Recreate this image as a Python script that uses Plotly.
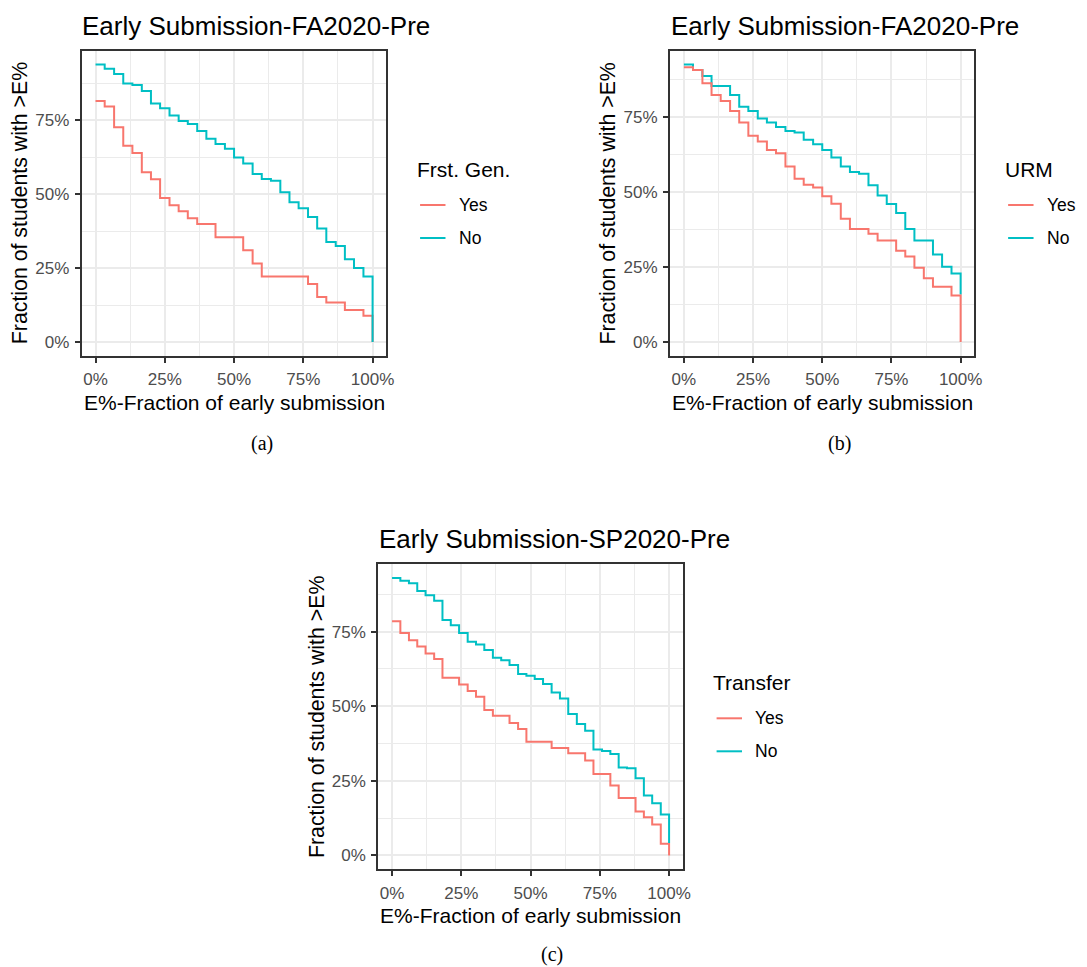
import plotly.graph_objects as go

W, H = 1087, 967

# ---------------- data ----------------
# E% grid (fall semester: 30 assignments, spring: 33)
e_fa = [0.000, 0.033, 0.067, 0.100, 0.133, 0.167, 0.200, 0.233, 0.267, 0.300,
        0.333, 0.367, 0.400, 0.433, 0.467, 0.500, 0.533, 0.567, 0.600, 0.633,
        0.667, 0.700, 0.733, 0.767, 0.800, 0.833, 0.867, 0.900, 0.933, 0.967, 1.000]
e_sp = [0.000, 0.030, 0.061, 0.091, 0.121, 0.152, 0.182, 0.212, 0.242, 0.273,
        0.303, 0.333, 0.364, 0.394, 0.424, 0.455, 0.485, 0.515, 0.545, 0.576,
        0.606, 0.636, 0.667, 0.697, 0.727, 0.758, 0.788, 0.818, 0.848, 0.879,
        0.909, 0.939, 0.970, 1.000]

# (a) First generation, FA2020
a_yes = [0.816, 0.797, 0.727, 0.664, 0.640, 0.575, 0.551, 0.488, 0.463, 0.443,
         0.419, 0.400, 0.400, 0.355, 0.355, 0.355, 0.311, 0.266, 0.222, 0.222,
         0.222, 0.222, 0.222, 0.197, 0.153, 0.134, 0.134, 0.109, 0.109, 0.089, 0.000]
a_no = [0.939, 0.925, 0.907, 0.875, 0.870, 0.850, 0.807, 0.791, 0.767, 0.748,
        0.738, 0.714, 0.688, 0.670, 0.654, 0.625, 0.604, 0.569, 0.552, 0.546,
        0.507, 0.473, 0.453, 0.423, 0.384, 0.339, 0.325, 0.280, 0.251, 0.222, 0.000]

# (b) URM, FA2020
b_yes = [0.914, 0.905, 0.861, 0.822, 0.802, 0.769, 0.730, 0.686, 0.667, 0.639,
         0.628, 0.584, 0.543, 0.523, 0.514, 0.485, 0.460, 0.410, 0.376, 0.376,
         0.360, 0.338, 0.338, 0.304, 0.285, 0.247, 0.212, 0.184, 0.184, 0.155, 0.000]
b_no = [0.923, 0.905, 0.885, 0.852, 0.852, 0.822, 0.783, 0.769, 0.744, 0.730,
        0.715, 0.702, 0.697, 0.673, 0.658, 0.639, 0.614, 0.584, 0.566, 0.560,
        0.522, 0.488, 0.459, 0.429, 0.376, 0.338, 0.338, 0.291, 0.251, 0.228, 0.158]

# (c) Transfer, SP2020
c_yes = [0.785, 0.745, 0.721, 0.700, 0.677, 0.658, 0.595, 0.595, 0.573, 0.551,
         0.532, 0.487, 0.468, 0.468, 0.444, 0.424, 0.381, 0.381, 0.381, 0.360,
         0.360, 0.342, 0.342, 0.318, 0.273, 0.273, 0.234, 0.192, 0.192, 0.147,
         0.128, 0.104, 0.039, 0.000]
c_no = [0.930, 0.920, 0.912, 0.886, 0.872, 0.853, 0.789, 0.771, 0.745, 0.716,
        0.707, 0.688, 0.662, 0.654, 0.638, 0.608, 0.602, 0.591, 0.574, 0.546,
        0.526, 0.474, 0.440, 0.418, 0.355, 0.350, 0.340, 0.295, 0.292, 0.259,
        0.201, 0.175, 0.137, 0.042]

titles = ["Early Submission-FA2020-Pre", "Early Submission-FA2020-Pre",
          "Early Submission-SP2020-Pre"]
legend_titles = ["Frst. Gen.", "URM", "Transfer"]
group_labels = ["Yes", "No"]
captions = ["(a)", "(b)", "(c)"]
x_ticks = [0, 0.25, 0.5, 0.75, 1.0]
y_ticks = [0, 0.25, 0.5, 0.75, 1.0]
minor_ticks = [0.125, 0.375, 0.625, 0.875]

# ---------------- styling ----------------
RED, CYAN = "#F8766D", "#00BFC4"
GRID, BORDER, TICKTXT = "#EBEBEB", "#333333", "#4D4D4D"
SANS, SERIF = "Liberation Sans", "Liberation Serif"

# panel boxes in pixels: left, right, top, bottom
boxes = [(82.3, 389.3, 50.7, 356.0),
         (675.0, 981.7, 50.7, 356.0),
         (381.0, 688.0, 564.0, 869.3)]
caption_pos = [(263.5, 444.0), (846.0, 444.0), (556.0, 954.5)]

panels = [
    (e_fa, a_yes, a_no, True),   # True -> draw "No" on top
    (e_fa, b_yes, b_no, False),
    (e_sp, c_yes, c_no, True),
]


def px(x):
    return x / W


def py(y):
    return 1 - y / H


fig = go.Figure()
annotations = []
shapes = []
layout_axes = {}

for i, ((L, R, T, B), (ex, yes, no, no_on_top)) in enumerate(zip(boxes, panels)):
    n = "" if i == 0 else str(i + 1)
    xa, ya = "x" + n, "y" + n

    tr_yes = go.Scatter(x=ex, y=yes, mode="lines", name=group_labels[0],
                        line=dict(color=RED, width=2, shape="hv"),
                        xaxis=xa, yaxis=ya, showlegend=False)
    tr_no = go.Scatter(x=ex, y=no, mode="lines", name=group_labels[1],
                       line=dict(color=CYAN, width=2, shape="hv"),
                       xaxis=xa, yaxis=ya, showlegend=False)
    if no_on_top:
        fig.add_trace(tr_yes)
        fig.add_trace(tr_no)
    else:
        fig.add_trace(tr_no)
        fig.add_trace(tr_yes)

    ymax = max(max(yes), max(no))
    ymin = min(min(yes), min(no))
    span = ymax - ymin
    common = dict(
        showline=True, linecolor=BORDER, linewidth=2, mirror=True,
        ticks="outside", ticklen=5, tickwidth=2, tickcolor=BORDER,
        showgrid=True, gridcolor=GRID, gridwidth=2, zeroline=False,
        tickformat=".0%", tickmode="array",
        tickfont=dict(family=SANS, size=17, color=TICKTXT),
        minor=dict(tickmode="array", tickvals=minor_ticks, showgrid=True,
                   gridcolor=GRID, gridwidth=1, ticks=""),
        fixedrange=True,
    )
    layout_axes["xaxis" + n] = dict(
        common, domain=[px(L), px(R)], anchor=ya, range=[-0.05, 1.05],
        tickvals=x_ticks, ticklabelstandoff=2)
    layout_axes["yaxis" + n] = dict(
        common, domain=[py(B), py(T)], anchor=xa,
        range=[ymin - 0.05 * span, ymax + 0.05 * span],
        tickvals=y_ticks, ticklabelstandoff=2)

    # panel title
    annotations.append(dict(x=px(L - 1.5), y=py(T - 25.0), text=titles[i],
                            xanchor="left", yanchor="middle",
                            font=dict(family=SANS, size=26, color="black")))
    # axis titles
    annotations.append(dict(x=px((L + R) / 2), y=py(B + 46), text="E%-Fraction of early submission",
                            xanchor="center", yanchor="middle",
                            font=dict(family=SANS, size=21, color="black")))
    annotations.append(dict(x=px(L - 62.3), y=py((T + B) / 2), text="Fraction of students with >E%",
                            textangle=-90, xanchor="center", yanchor="middle",
                            font=dict(family=SANS, size=21.3, color="black")))
    # legend
    lx = R + 30.7
    annotations.append(dict(x=px(lx - 2), y=py(T + 118.3), text=legend_titles[i],
                            xanchor="left", yanchor="middle",
                            font=dict(family=SANS, size=21, color="black")))
    for j, (lab, col) in enumerate(zip(group_labels, [RED, CYAN])):
        yk = T + 154.3 + 33 * j
        shapes.append(dict(type="line", xref="paper", yref="paper",
                           x0=px(lx + 3.2), x1=px(lx + 28.8), y0=py(yk), y1=py(yk),
                           line=dict(color=col, width=2)))
        annotations.append(dict(x=px(lx + 42.2 - 2), y=py(yk), text=lab,
                                xanchor="left", yanchor="middle",
                                font=dict(family=SANS, size=17.5, color="black")))
    # caption
    cx, cy = caption_pos[i]
    annotations.append(dict(x=px(cx), y=py(cy), text=captions[i],
                            xanchor="center", yanchor="middle",
                            font=dict(family=SERIF, size=20, color="black")))

for a in annotations:
    a.update(xref="paper", yref="paper", showarrow=False)

fig.update_layout(
    width=W, height=H, autosize=False,
    margin=dict(l=0, r=0, t=0, b=0, pad=0),
    paper_bgcolor="white", plot_bgcolor="white",
    showlegend=False,
    annotations=annotations, shapes=shapes,
    **layout_axes,
)

fig.write_html("out.html", config={"displayModeBar": False},
               post_script="document.body.style.margin='0';document.body.style.overflow='hidden';")
